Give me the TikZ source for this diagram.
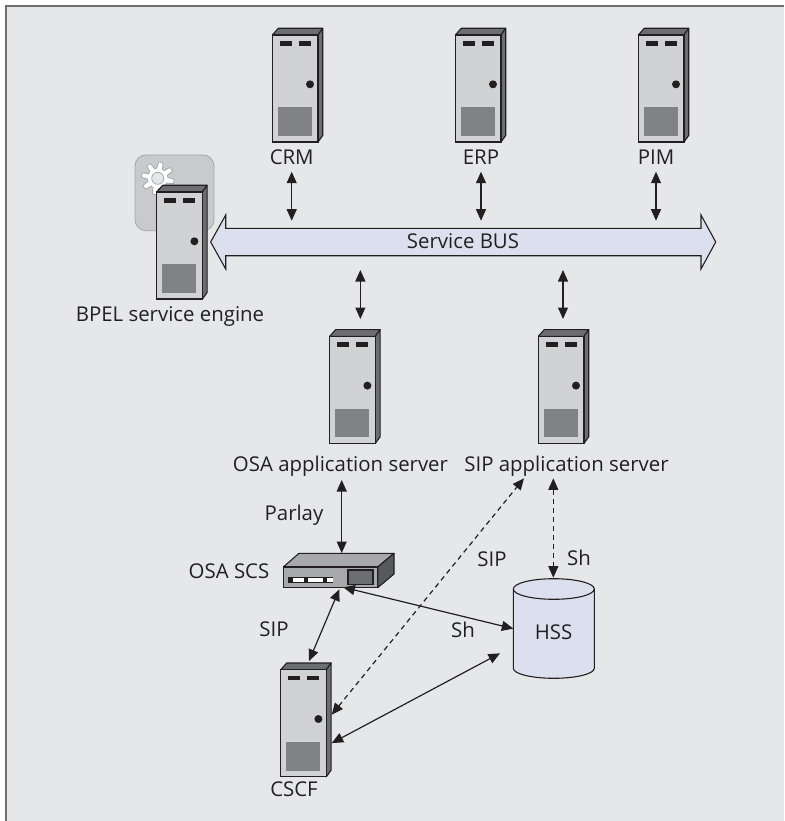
\documentclass[tikz,border=0pt]{standalone}
\usepackage{fontspec}
\setmainfont{Open Sans}
\usetikzlibrary{arrows.meta}
\definecolor{ink}{HTML}{231F20}
\definecolor{paper}{HTML}{E6E7E9}
\definecolor{framec}{HTML}{6D6E70}
\definecolor{srvfront}{HTML}{D1D2D4}
\definecolor{srvdark}{HTML}{6D6E71}
\definecolor{srvpanel}{HTML}{808285}
\definecolor{busfill}{HTML}{DCE0EE}
\definecolor{scsfront}{HTML}{A7A9AC}
\definecolor{scsside}{HTML}{58595B}
\definecolor{enginebox}{HTML}{C9CACC}
\tikzset{
  x=1pt,y=-1pt,
  lbl/.style={anchor=base,inner sep=0pt,text=ink,font=\fontsize{20.4}{22}\selectfont},
  line/.style={draw=ink,line width=1.2pt},
  dbl/.style={line,{Triangle[length=11.5pt,width=10pt]}-{Triangle[length=11.5pt,width=10pt]}},
  dashline/.style={dash pattern=on 5pt off 4pt},
  frontbox/.style={draw=ink,line width=1.1pt,fill=srvfront,minimum width=45.7pt,minimum height=107pt,inner sep=0pt,outer sep=0pt},
  hidden/.style={inner sep=0pt,outer sep=0pt},
}
\newcommand{\serverat}[3]{%
  \begin{scope}[shift={(#2,#3)}]
    \fill[srvdark,draw=ink,line width=1.1pt,line join=round] (0,0)--(6,-6.7)--(50.4,-6.7)--(45.7,0)--cycle;
    \fill[srvdark,draw=ink,line width=1.1pt,line join=round] (45.7,0)--(50.4,-6.7)--(50.4,100.5)--(45.7,107)--cycle;
    \node[frontbox] (#1) at (22.85,53.5) {};
    \fill[ink] (7.7,6) rectangle (19.7,10.7);
    \fill[ink] (26.7,6) rectangle (38.7,10.7);
    \fill[ink] (37.7,49.3) circle (4);
    \fill[srvpanel] (5.7,72.3) rectangle (39.7,101);
  \end{scope}}
\begin{document}
\begin{tikzpicture}
\useasboundingbox (0,0) rectangle (784,821);
\fill[paper] (6,6) rectangle (784,821);
\draw[framec,line width=2pt] (6,821)--(6,6)--(784,6);
\path[fill=enginebox,draw=gray!70,line width=.8pt,rounded corners=11pt] (135,155) rectangle (214,230.7);
\draw[fill=white,draw=gray!70,line width=.8pt] plot[domain=0:360,samples=289] ({157.7+(13.3+3.1*max(-1,min(1,1.8*sin(8*\x))))*cos(\x)},{178.3+(13.3+3.1*max(-1,min(1,1.8*sin(8*\x))))*sin(\x)}) -- cycle;
\draw[fill=paper,draw=gray!70,line width=.8pt] (157.7,178.3) circle (6);
\serverat{crm}{272.3}{35}
\serverat{erp}{455.3}{35}
\serverat{pim}{638.3}{35}
\serverat{bpel}{156.7}{192}
\serverat{osa}{329.7}{336.3}
\serverat{sipas}{538.3}{336.3}
\serverat{cscf}{280.7}{669.7}
\path[fill=busfill,draw=ink,line width=1.1pt,line join=miter]
  (210.7,242)--(225.7,215)--(225.7,228.3)--(701,228.3)--(701,215)--(715.7,242)--(701,269)--(701,255.7)--(225.7,255.7)--(225.7,269)--cycle;
\node[hidden,minimum width=475.3pt,minimum height=27.4pt] (bus) at (463.35,242) {};
\node[lbl] (buslbl) at (463,248) {Service BUS};
\path[fill=scsfront,draw=ink,line width=1.1pt,line join=round] (283.3,567)--(299,553.3)--(394,553.3)--(377.7,567)--cycle;
\path[fill=scsside,draw=ink,line width=1.1pt,line join=round] (377.7,567)--(394,553.3)--(394,574)--(377.7,587.7)--cycle;
\node[draw=ink,line width=1.1pt,fill=scsfront,minimum width=94.4pt,minimum height=20.7pt,inner sep=0,outer sep=0] (scs) at (330.5,577.35) {};
\fill[ink] (288,576.7) rectangle (333.3,582.7);
\fill[white] (292.7,577.8) rectangle (304,581.6);
\fill[white] (308,577.8) rectangle (323.3,581.6);
\fill[white] (327.3,577.8) rectangle (332.7,581.6);
\path[fill=srvdark,draw=ink,line width=1.1pt] (348,570) rectangle (373,584.7);
\path[fill=busfill,draw=ink,line width=1.1pt] (513.3,589)--(513.3,668.3) .. controls (513.3,673.8) and (531.4,678.3) .. (553.8,678.3) .. controls (576.2,678.3) and (594.3,673.8) .. (594.3,668.3) -- (594.3,589) .. controls (594.3,583.3) and (576.2,578.7) .. (553.8,578.7) .. controls (531.4,578.7) and (513.3,583.3) .. (513.3,589) -- cycle;
\draw[ink,line width=1.1pt] (513.3,589) .. controls (513.3,594.7) and (531.4,599.3) .. (553.8,599.3) .. controls (576.2,599.3) and (594.3,594.7) .. (594.3,589);
\node[hidden,minimum width=81pt,minimum height=79.3pt] (hss) at (553.8,628.65) {};
\node[lbl] (crmlbl) at (291.7,164.3) {CRM};
\node[lbl] (erplbl) at (481,164.3) {ERP};
\node[lbl] (pimlbl) at (656,164.3) {PIM};
\node[lbl] (bpellbl) at (170,321) {BPEL service engine};
\node[lbl] (osalbl) at (340.5,471.5) {OSA application server};
\node[lbl] (siplbl) at (566.5,471.5) {SIP application server};
\node[lbl] (parlay) at (294,520.7) {Parlay};
\node[lbl] (scslbl) at (229,578.7) {OSA SCS};
\node[lbl] (sip1) at (274,636.7) {SIP};
\node[lbl] (sip2) at (492,566.7) {SIP};
\node[lbl] (sh1) at (579,565) {Sh};
\node[lbl] (sh2) at (463,637.7) {Sh};
\node[lbl] (hsslbl) at (553.5,639.3) {HSS};
\node[lbl] (cscflbl) at (294,796.7) {CSCF};
\draw[dbl] ([yshift=56.6]crmlbl.south |- bus.north) -- ([yshift=7.6]crmlbl.south |- bus.north);
\draw[dbl] ([yshift=56.6]erplbl.south |- bus.north) -- ([yshift=7.6]erplbl.south |- bus.north);
\draw[dbl] ([yshift=56.6]pimlbl.south |- bus.north) -- ([yshift=7.6]pimlbl.south |- bus.north);
\draw[dbl] ([xshift=7.8,yshift=-14.3]bus.south -| osa.north) -- ([xshift=7.8,yshift=17.3]osa.north);
\draw[dbl] ([xshift=1.85,yshift=-14.3]bus.south -| sipas.north) -- ([xshift=1.85,yshift=17.3]sipas.north);
\draw[dbl] ([xshift=-10.85,yshift=-36.7]osa.south) -- ([xshift=-10.85,yshift=14]osa.south |- scs.north);
\draw[dbl] ([xshift=8.8,yshift=-1.6]scs.south) -- ([xshift=5.45,yshift=8.7]cscf.north);
\draw[dbl] ([xshift=12.8,yshift=.4]scs.south) -- (hss.west);
\draw[dbl,dashline] ([xshift=5.3,yshift=8.5]cscf.east) -- ([xshift=-37.15,yshift=-35]sipas.south);
\draw[dbl] ([xshift=5.3,yshift=-19.9]cscf.east) -- ([xshift=-13.3,yshift=-24.65]hss.west);
\draw[dbl,dashline] ([xshift=-7.85,yshift=-35]sipas.south) -- ([xshift=-7.85,yshift=11.3]sipas.south |- hss.north);
\end{tikzpicture}
\end{document}
